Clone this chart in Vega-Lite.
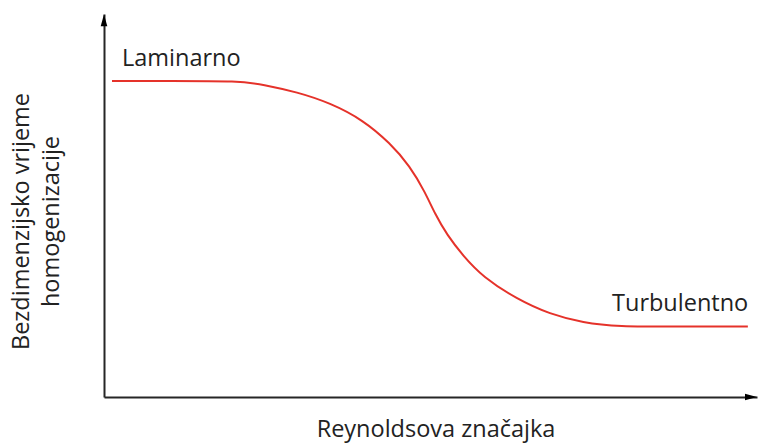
{
  "$schema": "https://vega.github.io/schema/vega-lite/v6.json",
  "width": 653,
  "height": 383,
  "autosize": {"type": "none"},
  "padding": {"left": 104, "top": 14, "right": 1, "bottom": 46},
  "background": "white",
  "config": {"view": {"stroke": null}, "font": "Open Sans"},
  "datasets": {
    "curve": [
      {"re": 1.23, "t": 82.5},
      {"re": 10.0, "t": 82.5},
      {"re": 20.8, "t": 82.5},
      {"re": 24.3, "t": 81.6},
      {"re": 29.6, "t": 79.6},
      {"re": 34.6, "t": 76.8},
      {"re": 39.7, "t": 72.3},
      {"re": 43.8, "t": 66.3},
      {"re": 46.86, "t": 60.3},
      {"re": 49.16, "t": 53.5},
      {"re": 50.69, "t": 47.8},
      {"re": 52.53, "t": 42.3},
      {"re": 54.98, "t": 36.9},
      {"re": 58.04, "t": 31.3},
      {"re": 63.2, "t": 25.6},
      {"re": 68.3, "t": 21.6},
      {"re": 73.4, "t": 19.4},
      {"re": 78.6, "t": 18.4},
      {"re": 88.0, "t": 18.4},
      {"re": 98.6, "t": 18.4}
    ],
    "labels": [
      {"re": 2.76, "t": 86.4, "label": "Laminarno"},
      {"re": 77.8, "t": 22.45, "label": "Turbulentno"}
    ],
    "yarrow": [{"re": 0, "t": 98.4}],
    "xarrow": [{"re": 99.08, "t": 0}]
  },
  "layer": [
    {
      "data": {"name": "curve"},
      "mark": {"type": "line", "color": "#e5322a", "strokeWidth": 2, "interpolate": "basis"},
      "encoding": {
        "x": {
          "field": "re", "type": "quantitative",
          "scale": {"domain": [0, 100], "nice": false, "zero": false},
          "axis": {
            "title": "Reynoldsova značajka",
            "ticks": false, "labels": false, "grid": false,
            "domainColor": "#262626", "domainWidth": 2,
            "titleFont": "Open Sans", "titleFontSize": 23.5, "titleFontWeight": "normal",
            "titleColor": "#222222",
            "titleX": 331.5, "titleY": 39, "titleBaseline": "alphabetic", "titleAlign": "center"
          }
        },
        "y": {
          "field": "t", "type": "quantitative",
          "scale": {"domain": [0, 100], "nice": false, "zero": false},
          "axis": {
            "title": ["Bezdimenzijsko vrijeme", "homogenizacije"],
            "ticks": false, "labels": false, "grid": false,
            "domainColor": "#262626", "domainWidth": 2,
            "titleFont": "Open Sans", "titleFontSize": 23.5, "titleFontWeight": "normal",
            "titleColor": "#222222", "titleLineHeight": 30,
            "titleAngle": -90, "titleX": -76, "titleY": 207,
            "titleBaseline": "alphabetic", "titleAlign": "center"
          }
        }
      }
    },
    {
      "data": {"name": "labels"},
      "mark": {"type": "text", "align": "left", "baseline": "alphabetic", "font": "Open Sans", "fontSize": 23.5, "color": "#222222"},
      "encoding": {
        "x": {"field": "re", "type": "quantitative"},
        "y": {"field": "t", "type": "quantitative"},
        "text": {"field": "label"}
      }
    },
    {
      "data": {"name": "yarrow"},
      "mark": {"type": "point", "shape": "M0,-1L-0.55,1L0.55,1Z", "size": 144, "filled": true, "color": "#000000", "opacity": 1},
      "encoding": {
        "x": {"field": "re", "type": "quantitative"},
        "y": {"field": "t", "type": "quantitative"}
      }
    },
    {
      "data": {"name": "xarrow"},
      "mark": {"type": "point", "shape": "M1,0L-1,-0.55L-1,0.55Z", "size": 144, "filled": true, "color": "#000000", "opacity": 1},
      "encoding": {
        "x": {"field": "re", "type": "quantitative"},
        "y": {"field": "t", "type": "quantitative"}
      }
    }
  ]
}
